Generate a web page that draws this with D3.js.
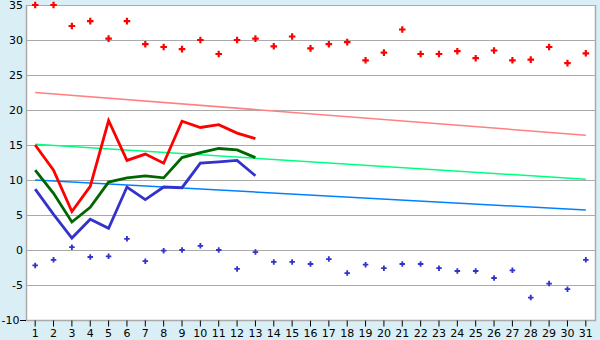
<!DOCTYPE html>
<html>
  <head>
    <meta charset="UTF-8" />
    <script src="https://d3js.org/d3.v7.min.js"></script>
    <style>
      body { margin: 0; background: #d9eff5; }
      text { font-family: "DejaVu Sans", Verdana, sans-serif; font-size: 11px; fill: #000; }
    </style>
  </head>
  <body>
    <div id="chart"></div>

    <script>
      // days of the month
      var days = d3.range(1, 32);
      var yTicks = [-10, -5, 0, 5, 10, 15, 20, 25, 30, 35];

      // scatter points (whole month)
      var highPoints = [35.0, 35.0, 32.0, 32.7, 30.2, 32.7, 29.4, 29.0, 28.7, 30.0,
                        28.0, 30.0, 30.2, 29.1, 30.5, 28.8, 29.4, 29.7, 27.1, 28.2,
                        31.5, 28.0, 28.0, 28.4, 27.4, 28.5, 27.1, 27.2, 29.0, 26.7, 28.1];
      var lowPoints = [-2.2, -1.4, 0.4, -1.0, -0.9, 1.6, -1.6, -0.1, 0.0, 0.6,
                       0.0, -2.7, -0.3, -1.7, -1.7, -2.0, -1.3, -3.3, -2.1, -2.6,
                       -2.0, -2.0, -2.6, -3.0, -3.0, -4.0, -2.9, -6.8, -4.8, -5.6, -1.4];

      // lines (first 13 days)
      var maxLine = [15.0, 11.4, 5.5, 9.1, 18.5, 12.8, 13.7, 12.4, 18.4, 17.5, 17.9, 16.7, 15.9];
      var meanLine = [11.4, 8.1, 4.0, 6.1, 9.7, 10.3, 10.6, 10.3, 13.2, 13.9, 14.5, 14.3, 13.2];
      var minLine = [8.7, 5.1, 1.7, 4.4, 3.1, 9.0, 7.2, 9.0, 8.9, 12.4, 12.6, 12.8, 10.6];

      // trend lines, value at day 1 and day 31
      var trendDays = [1, 31];
      var trendMax = [22.5, 16.4];
      var trendMean = [15.1, 10.1];
      var trendMin = [10.0, 5.7];

      var width = 600, height = 340;
      var pLeft = 26, pRight = 595, pTop = 5, pBottom = 320;

      var svg = d3.select("#chart").append("svg")
        .attr("width", width)
        .attr("height", height)
        .style("display", "block");

      var x = d3.scaleBand().domain(days).range([pLeft, pRight]);
      var cx = function (d) { return x(d) + x.bandwidth() / 2; };
      var y = d3.scaleLinear().domain([-10, 35]).range([pBottom, pTop]);

      // plot background
      svg.append("rect")
        .attr("x", pLeft).attr("y", pTop)
        .attr("width", pRight - pLeft).attr("height", pBottom - pTop)
        .attr("fill", "#fff");

      // grid
      svg.append("g")
        .selectAll("line")
        .data(yTicks)
        .enter().append("line")
        .attr("x1", pLeft).attr("x2", pRight)
        .attr("y1", function (d) { return Math.round(y(d)) + 0.5; })
        .attr("y2", function (d) { return Math.round(y(d)) + 0.5; })
        .attr("stroke", "#aaa");

      // border
      svg.append("path")
        .attr("d", "M" + (pLeft + 0.5) + "," + pTop + "V" + (pBottom + 0.5) + "H" + (pRight + 0.5) + "V" + pTop)
        .attr("fill", "none")
        .attr("stroke", "#aaa")
        .attr("stroke-width", 1.5);

      // short baseline stub left of the axis
      svg.append("line")
        .attr("x1", pLeft - 6).attr("x2", pLeft)
        .attr("y1", pBottom + 0.5).attr("y2", pBottom + 0.5)
        .attr("stroke", "#000");

      // y axis labels
      svg.append("g")
        .selectAll("text")
        .data(yTicks)
        .enter().append("text")
        .attr("x", function (d) { return d === yTicks[0] ? 19.5 : 23; })
        .attr("y", function (d) { return y(d) + 4; })
        .attr("text-anchor", "end")
        .text(function (d) { return d; });

      // x axis
      var xAxis = svg.append("g")
        .attr("transform", "translate(0," + (pBottom + 0.5) + ")")
        .call(d3.axisBottom(x).tickSize(6).tickPadding(3));
      xAxis.select(".domain").remove();
      xAxis.selectAll(".tick line").attr("stroke", "#000");
      xAxis.selectAll(".tick text")
        .style("font-family", "'DejaVu Sans', Verdana, sans-serif")
        .style("font-size", "11px")
        .attr("fill", "#000");

      // trend lines
      function drawTrend(vals, color) {
        svg.append("line")
          .attr("x1", cx(trendDays[0])).attr("y1", y(vals[0]))
          .attr("x2", cx(trendDays[1])).attr("y2", y(vals[1]))
          .attr("stroke", color)
          .attr("stroke-width", 1.5);
      }
      drawTrend(trendMax, "#ff8080");
      drawTrend(trendMean, "#00ff80");
      drawTrend(trendMin, "#0080ff");

      // data lines
      var line = d3.line()
        .x(function (d, i) { return cx(days[i]); })
        .y(function (d) { return y(d); });

      function drawLine(vals, color) {
        svg.append("path")
          .datum(vals)
          .attr("d", line)
          .attr("fill", "none")
          .attr("stroke", color)
          .attr("stroke-width", 2.8)
          .attr("stroke-linejoin", "miter");
      }
      drawLine(maxLine, "#ff0000");
      drawLine(meanLine, "#006600");
      drawLine(minLine, "#3333cc");

      // scatter markers
      function drawPoints(vals, color, size) {
        svg.append("g")
          .selectAll("path")
          .data(vals)
          .enter().append("path")
          .attr("d", d3.symbol().type(d3.symbolCross).size(size))
          .attr("transform", function (d, i) {
            return "translate(" + cx(days[i]) + "," + y(d) + ")";
          })
          .attr("fill", color);
      }
      drawPoints(highPoints, "#ff0000", 24);
      drawPoints(lowPoints, "#3333cc", 17);
    </script>
  </body>
</html>
